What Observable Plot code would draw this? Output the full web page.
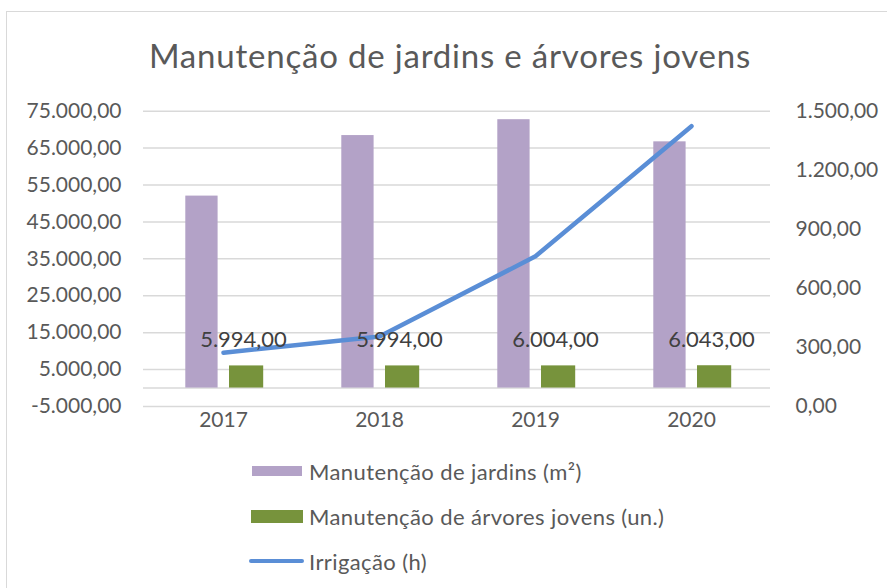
<!DOCTYPE html>
<html>
<head>
<meta charset="utf-8">
<script src="https://cdn.jsdelivr.net/npm/d3@7"></script>
<script src="https://cdn.jsdelivr.net/npm/@observablehq/plot@0.6"></script>
<style>
  html, body { margin: 0; padding: 0; background: #fff; }
  body { width: 887px; height: 588px; overflow: hidden; position: relative; font-family: Lato, "Open Sans", sans-serif; }
  #frame { position: absolute; left: 6px; top: 10.5px; width: 920px; height: 620px; border: 1.5px solid #d9d9d9; box-sizing: border-box; }
  #title { position: absolute; left: 0; width: 900px; top: 39px; text-align: center; font-size: 33px; letter-spacing: 0.8px; line-height: 33px; color: #595959; white-space: nowrap; }
  #chart { position: absolute; left: 0; top: 0; }
  .leg { position: absolute; left: 249px; height: 30px; display: flex; align-items: center; font-size: 22px; letter-spacing: 0.4px; color: #595959; white-space: nowrap; }
  .sw { display: inline-block; margin-right: 6px; }
</style>
</head>
<body>
<div id="frame"></div>
<div id="title">Manutenção de jardins e árvores jovens</div>
<div id="chart"></div>
<div class="leg" style="top:456px"><span class="sw" style="width:50px;height:10px;background:#b3a2c7;margin-left:3px;margin-right:7px"></span>Manutenção de jardins (m²)</div>
<div class="leg" style="top:501px"><span class="sw" style="width:52px;height:13px;background:#77933c;margin-left:2px;margin-right:6px"></span>Manutenção de árvores jovens (un.)</div>
<div class="leg" style="top:546px"><span class="sw" style="width:55px;height:4px;background:#5a8ed6;border-radius:2px;margin-right:5px"></span>Irrigação (h)</div>
<script>
const years = ["2017", "2018", "2019", "2020"];
const jardins = [52000, 68400, 72700, 66700];
const arvores = [5994, 5994, 6004, 6043];
const irrigacao = [273, 356, 763, 1424];
const leftTicks = [-5000, 5000, 15000, 25000, 35000, 45000, 55000, 65000, 75000];
const rightTicks = [0, 300, 600, 900, 1200, 1500];

const locale = d3.formatLocale({decimal: ",", thousands: ".", grouping: [3], currency: ["R$", ""], minus: "-"});
const fmt = locale.format(",.2f");

// right axis (0..1500) mapped onto left scale (-5000..75000)
const toLeft = v => -5000 + v * (80000 / 1500);
const fromLeft = d => (d + 5000) * (1500 / 80000);

const rows = years.map((y, i) => ({year: y, jardins: jardins[i], arvores: arvores[i], irr: irrigacao[i]}));

const plot = Plot.plot({
  width: 887,
  height: 440,
  marginLeft: 143,
  marginRight: 117,
  marginTop: 110.7,
  marginBottom: 34,
  style: {fontFamily: "Lato, 'Open Sans', sans-serif", color: "#595959", background: "transparent"},
  x: {type: "band", domain: years, padding: 0},
  y: {domain: [-5000, 75000]},
  marks: [
    Plot.ruleY(leftTicks, {stroke: "#d9d9d9", strokeWidth: 1.5}),
    Plot.ruleY([0], {stroke: "#d9d9d9", strokeWidth: 1.5}),
    Plot.barY(rows, {x: "year", y: "jardins", fill: "#b3a2c7", insetLeft: 40.3, insetRight: 83.4}),
    Plot.barY(rows, {x: "year", y: "arvores", fill: "#77933c", insetLeft: 84, insetRight: 37.8}),
    Plot.line(rows, {x: "year", y: d => toLeft(d.irr), stroke: "#5a8ed6", strokeWidth: 4.5, strokeLinecap: "round", strokeLinejoin: "round"}),
    Plot.text(rows, {x: "year", y: "arvores", text: d => fmt(d.arvores), dx: 20, dy: -26, fontSize: 22, fill: "#404040", lineAnchor: "middle"}),
    Plot.axisY({ticks: leftTicks, tickSize: 0, tickPadding: 22, tickFormat: fmt, fontSize: 21, label: null}),
    Plot.axisY({anchor: "right", ticks: rightTicks.map(toLeft), tickSize: 0, tickPadding: 25, tickFormat: d => fmt(Math.round(fromLeft(d))), fontSize: 21, label: null}),
    Plot.axisX({tickSize: 0, tickPadding: 6, fontSize: 21, label: null})
  ]
});
document.getElementById("chart").appendChild(plot);
</script>
</body>
</html>
